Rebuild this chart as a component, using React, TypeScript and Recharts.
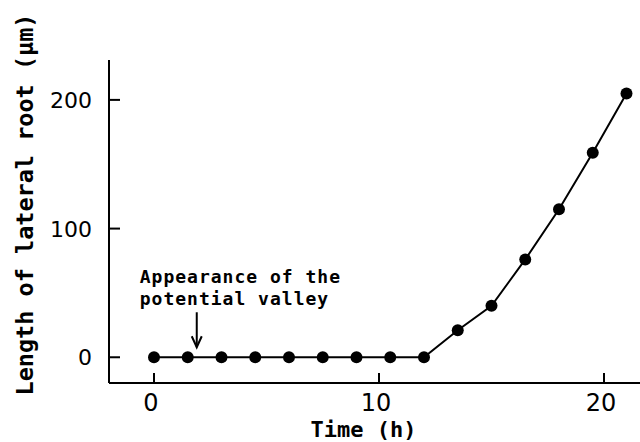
import React from "react";
import { LineChart, Line, XAxis, YAxis, ReferenceDot } from "recharts";

// time in hours, one reading every 1.5 h
const hours = [0, 1.5, 3, 4.5, 6, 7.5, 9, 10.5, 12, 13.5, 15, 16.5, 18, 19.5, 21];
// length of the lateral root in µm
const rootLength = [0, 0, 0, 0, 0, 0, 0, 0, 0, 21, 40, 76, 115, 159, 205];

const xTicks = [0, 10, 20];
const yTicks = [0, 100, 200];

const annotationLines = ["Appearance of the", "potential valley"];
const annotationAt = { x: 1.9, y: 0 };

const data = hours.map((t, i) => ({ t, len: rootLength[i] }));

const mono = "'DejaVu Sans Mono', monospace";
const sans = "'DejaVu Sans', sans-serif";

const XTick = (props: any) => {
  const { x, y, payload } = props;
  return (
    <g>
      <line x1={x} y1={y} x2={x} y2={y - 10} stroke="#000" strokeWidth={2} />
      <text x={x - 3} y={y + 28} textAnchor="middle" fontFamily={sans} fontSize={24} fill="#000">
        {payload.value}
      </text>
    </g>
  );
};

const YTick = (props: any) => {
  const { x, y, payload } = props;
  return (
    <g>
      <line x1={x} y1={y} x2={x + 11} y2={y} stroke="#000" strokeWidth={2} />
      <text x={x - 17} y={y + 8} textAnchor="end" fontFamily={sans} fontSize={22} fill="#000">
        {payload.value}
      </text>
    </g>
  );
};

const YLabel = (props: any) => {
  const vb = props.viewBox || { x: 0, y: 60, width: 109, height: 323 };
  const cx = vb.x + 33;
  const cy = vb.y + vb.height / 2 - 17;
  return (
    <text
      x={cx}
      y={cy}
      transform={`rotate(-90, ${cx}, ${cy})`}
      textAnchor="middle"
      fontFamily={mono}
      fontWeight="bold"
      fontSize={23.5}
      fill="#000"
    >
      Length of lateral root (µm)
    </text>
  );
};

const XLabel = (props: any) => {
  const vb = props.viewBox || { x: 109, y: 383, width: 531, height: 59 };
  return (
    <text
      x={vb.x + vb.width / 2 - 11}
      y={vb.y + 54}
      textAnchor="middle"
      fontFamily={mono}
      fontWeight="bold"
      fontSize={22}
      fill="#000"
    >
      Time (h)
    </text>
  );
};

const Annotation = (props: any) => {
  const { cx, cy } = props;
  return (
    <g>
      <text x={cx - 57} y={cy - 74} fontFamily={mono} fontWeight="bold" fontSize={18} letterSpacing={1} fill="#000">
        {annotationLines[0]}
      </text>
      <text x={cx - 57} y={cy - 52} fontFamily={mono} fontWeight="bold" fontSize={18} letterSpacing={1} fill="#000">
        {annotationLines[1]}
      </text>
      <line x1={cx} y1={cy - 45} x2={cx} y2={cy - 10} stroke="#000" strokeWidth={2} />
      <polyline
        points={`${cx - 5},${cy - 21} ${cx},${cy - 10} ${cx + 5},${cy - 21}`}
        fill="none"
        stroke="#000"
        strokeWidth={2}
      />
    </g>
  );
};

export default function App() {
  return (
    <div style={{ position: "absolute", left: 0, top: 0, width: 640, height: 442, background: "#fff" }}>
      <LineChart width={640} height={442} data={data} margin={{ top: 60, right: 0, bottom: 0, left: 0 }}>
        <XAxis
          type="number"
          dataKey="t"
          domain={[-2, 21.6]}
          allowDataOverflow
          ticks={xTicks}
          interval={0}
          height={59}
          tickSize={0}
          tickMargin={0}
          tickLine={false}
          tick={<XTick />}
          axisLine={{ stroke: "#000", strokeWidth: 2 }}
          label={<XLabel />}
        />
        <YAxis
          type="number"
          domain={[-20, 231]}
          allowDataOverflow
          ticks={yTicks}
          interval={0}
          width={109}
          tickSize={0}
          tickMargin={0}
          tickLine={false}
          tick={<YTick />}
          axisLine={{ stroke: "#000", strokeWidth: 2 }}
          label={<YLabel />}
        />
        <Line
          dataKey="len"
          type="linear"
          stroke="#000"
          strokeWidth={2}
          dot={{ r: 6, fill: "#000", stroke: "#000", strokeWidth: 0 }}
          isAnimationActive={false}
        />
        <ReferenceDot x={annotationAt.x} y={annotationAt.y} r={0} shape={<Annotation />} />
      </LineChart>
    </div>
  );
}
